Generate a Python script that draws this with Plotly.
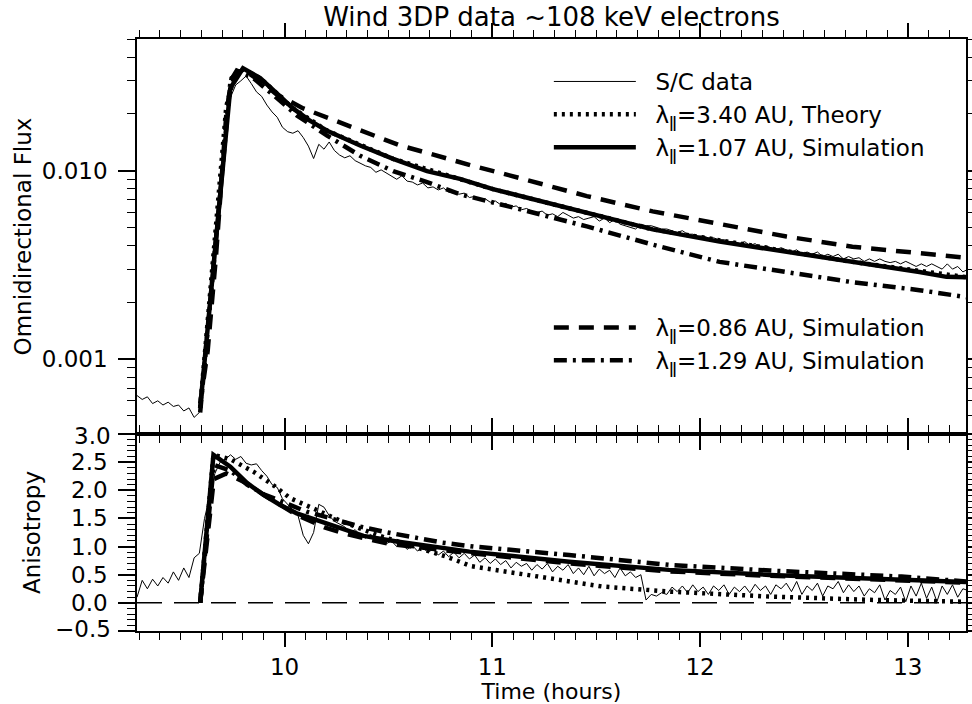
import numpy as np
import plotly.graph_objects as go
from plotly.subplots import make_subplots

# ---------------- data ----------------
# S/C data sampled every 0.025 h starting at 9.29 h
t_start = 9.29
t_step = 0.025
flux_data = [
    0.00064, 0.00061, 0.00063, 0.00058, 0.00060, 0.00057, 0.00059, 0.00056, 0.00057, 0.00053,
    0.00055, 0.00049, 0.00052, 0.0011, 0.0024, 0.0046, 0.0090, 0.0165, 0.0245, 0.0285,
    0.0300, 0.0318, 0.0290, 0.0262, 0.0248, 0.0223, 0.0205, 0.0192, 0.0170, 0.0161,
    0.0158, 0.0163, 0.0150, 0.0135, 0.0116, 0.0138, 0.0130, 0.0142, 0.0128, 0.0121,
    0.0117, 0.0120, 0.0113, 0.0109, 0.0106, 0.0104, 0.0098, 0.0101, 0.0097, 0.0093,
    0.0090, 0.0094, 0.0088, 0.0087, 0.0084, 0.0086, 0.0081, 0.0082, 0.0079, 0.0081,
    0.0077, 0.0076, 0.0075, 0.0076, 0.0072, 0.0073, 0.0070, 0.0071, 0.0068, 0.0069,
    0.0066, 0.0067, 0.0064, 0.0065, 0.0062, 0.0063, 0.0061, 0.0060, 0.0061, 0.0058,
    0.0059, 0.0057, 0.0060, 0.0058, 0.0056, 0.0057, 0.0055, 0.0056, 0.0057, 0.0054,
    0.0056, 0.0053, 0.0055, 0.0052, 0.0051, 0.0050, 0.0049, 0.0052, 0.0051, 0.0051,
    0.0050, 0.0049, 0.0049, 0.0048, 0.0047, 0.0048, 0.0046, 0.0046, 0.0045, 0.0045,
    0.0044, 0.0044, 0.0043, 0.0043, 0.0042, 0.0042, 0.0041, 0.0042, 0.0040, 0.0041,
    0.0039, 0.0040, 0.0039, 0.0038, 0.0039, 0.0038, 0.0037, 0.0038, 0.0036, 0.0037,
    0.0036, 0.0037, 0.0035, 0.0036, 0.0035, 0.0036, 0.0034, 0.0035, 0.0034, 0.00345,
    0.0033, 0.0034, 0.0033, 0.0034, 0.0033, 0.00325, 0.0033, 0.0032, 0.0033, 0.0032,
    0.0031, 0.0032, 0.0031, 0.0032, 0.0031, 0.0030, 0.0032, 0.0030, 0.0031, 0.0029,
    0.0030,
]
aniso_data = [
    0.10, 0.40, 0.25, 0.42, 0.30, 0.45, 0.35, 0.55, 0.40, 0.62,
    0.45, 0.80, 0.88, 1.50, 1.90, 2.30, 2.50, 2.55, 2.63, 2.55,
    2.60, 2.48, 2.45, 2.47, 2.35, 2.25, 2.10, 2.05, 1.85, 1.75,
    1.65, 1.55, 1.20, 1.05, 1.25, 1.75, 1.70, 1.55, 1.45, 1.40,
    1.35, 1.25, 1.30, 1.20, 1.15, 1.22, 1.10, 1.12, 1.05, 1.10,
    1.00, 1.05, 0.95, 1.02, 0.92, 0.98, 0.90, 0.95, 0.85, 0.92,
    0.82, 0.90, 0.80, 0.88, 0.78, 0.85, 0.72, 0.80, 0.70, 0.78,
    0.68, 0.75, 0.62, 0.72, 0.65, 0.70, 0.58, 0.68, 0.60, 0.70,
    0.55, 0.65, 0.58, 0.68, 0.52, 0.62, 0.50, 0.65, 0.48, 0.60,
    0.52, 0.58, 0.45, 0.62, 0.48, 0.55, 0.45, 0.50, 0.05, 0.15,
    0.12, 0.18, 0.15, 0.28, 0.20, 0.30, 0.18, 0.32, 0.20, 0.28,
    0.15, 0.30, 0.22, 0.32, 0.15, 0.28, 0.20, 0.30, 0.18, 0.33,
    0.22, 0.30, 0.15, 0.32, 0.25, 0.35, 0.20, 0.38, 0.15, 0.30,
    0.22, 0.35, 0.12, 0.30, 0.25, 0.38, 0.18, 0.32, 0.20, 0.30,
    0.12, 0.25, 0.18, 0.32, 0.05, 0.22, 0.15, 0.28, 0.02, 0.30,
    0.12, 0.35, 0.08, 0.28, 0.02, 0.30, 0.15, 0.32, 0.10, 0.25,
    0.22,
]
t_data = [round(t_start + t_step * i, 3) for i in range(len(flux_data))]

# Model curves: omnidirectional flux
t_sim107_f = [9.594, 9.739, 9.80, 9.883, 9.95, 10.041, 10.12, 10.205, 10.364, 10.523, 10.686,
              10.844, 11.003, 11.133, 11.455, 11.772, 12.094, 12.416, 12.733, 13.056, 13.186, 13.282]
f_sim107 = [0.00055, 0.0274, 0.0350, 0.0310, 0.0265, 0.0214, 0.0185, 0.0163, 0.0136, 0.01156, 0.00995,
            0.00904, 0.00798, 0.00733, 0.00601, 0.00488, 0.0042, 0.00372, 0.00328, 0.0029, 0.00273, 0.00272]

t_sim086_f = [9.594, 9.63, 9.67, 9.72, 9.745, 9.80, 9.88, 9.96, 10.09, 10.219, 10.33, 10.445, 10.556,
              10.667, 10.782, 10.907, 11.022, 11.147, 11.455, 11.772, 12.094, 12.416, 12.733, 13.056, 13.282]
f_sim086 = [0.00058, 0.0011, 0.0035, 0.020, 0.031, 0.0345, 0.030, 0.0255, 0.0214, 0.0189, 0.0169, 0.0151,
            0.0136, 0.0126, 0.01156, 0.0106, 0.00984, 0.00903, 0.00733, 0.00608, 0.00518, 0.00447,
            0.00395, 0.00366, 0.00345]

t_sim129_f = [9.594, 9.74, 9.77, 9.85, 9.95, 10.061, 10.205, 10.364, 10.523, 10.686, 10.844, 11.003,
              11.195, 11.455, 11.772, 12.094, 12.416, 12.733, 13.056, 13.282]
f_sim129 = [0.00052, 0.030, 0.034, 0.031, 0.025, 0.0196, 0.01535, 0.0120, 0.00995, 0.00869, 0.0075,
            0.0068, 0.0060, 0.00506, 0.00405, 0.00328, 0.0029, 0.00256, 0.00232, 0.00213]

t_theory_f = [9.594, 9.72, 9.76, 9.80, 9.883, 10.041, 10.205, 10.523, 11.003, 11.772, 12.733, 13.282]
f_theory = [0.00055, 0.022, 0.032, 0.0345, 0.0310, 0.0214, 0.0163, 0.01156, 0.00798, 0.00488, 0.00328, 0.00272]

# Model curves: anisotropy
t_sim107_a = [9.594, 9.658, 9.739, 9.819, 9.899, 9.979, 10.059, 10.219, 10.38, 10.54, 10.70, 10.89,
              11.37, 11.85, 12.335, 12.816, 13.28]
a_sim107 = [0.0, 2.63, 2.42, 2.13, 1.92, 1.74, 1.59, 1.385, 1.19, 1.09, 1.0, 0.91,
            0.73, 0.586, 0.497, 0.44, 0.37]

t_sim086_a = [9.594, 9.66, 9.72, 9.82, 9.90, 9.98, 10.06, 10.20, 10.30, 10.50, 10.70, 10.90, 11.37,
              11.85, 12.335, 12.816, 13.28]
a_sim086 = [0.0, 2.20, 2.30, 2.12, 1.92, 1.73, 1.56, 1.33, 1.22, 1.05, 0.96, 0.88, 0.70,
            0.56, 0.48, 0.42, 0.36]

t_sim129_a = [9.594, 9.66, 9.74, 9.82, 9.90, 10.0, 10.107, 10.364, 10.51, 10.76, 10.91, 11.37, 11.85,
              12.335, 12.66, 12.97, 13.28]
a_sim129 = [0.0, 2.45, 2.35, 2.10, 1.93, 1.78, 1.62, 1.355, 1.24, 1.07, 1.0, 0.85, 0.675,
            0.574, 0.527, 0.467, 0.38]

t_theory_a = [9.594, 9.658, 9.74, 9.85, 9.95, 10.027, 10.155, 10.28, 10.45, 10.62, 10.78, 10.90, 11.21,
              11.53, 11.85, 12.335, 12.82, 13.28]
a_theory = [0.0, 2.63, 2.55, 2.33, 2.08, 1.86, 1.65, 1.44, 1.20, 1.0, 0.82, 0.65, 0.467,
            0.29, 0.20, 0.112, 0.053, 0.02]

LAM = "λ<sub>ǁ</sub>"
GAP = "\u00a0\u00a0"
names = [GAP + "S/C data", GAP + LAM + "=3.40 AU, Theory", GAP + LAM + "=1.07 AU, Simulation",
         GAP + LAM + "=0.86 AU, Simulation", GAP + LAM + "=1.29 AU, Simulation"]

anis_ticks = [-0.5, 0.0, 0.5, 1.0, 1.5, 2.0, 2.5, 3.0]
anis_ticktext = ["", "0.0", "0.5", "1.0", "1.5", "2.0", "2.5", ""]

# ---------------- figure ----------------
FONT = "DejaVu Sans"
FS = 23
fig = make_subplots(rows=2, cols=1, shared_xaxes=True, vertical_spacing=0,
                    row_heights=[0.6672, 0.3328])

W = 4.5
styles = {
    "data": dict(color="black", width=1),
    "theory": dict(color="black", width=W, dash="3px,5px"),
    "s107": dict(color="black", width=W),
    "s086": dict(color="black", width=W, dash="15px,10px"),
    "s129": dict(color="black", width=W, dash="13px,6px,3px,6px"),
}

# top panel
fig.add_trace(go.Scatter(x=t_data, y=flux_data, mode="lines", line=styles["data"],
                         name=names[0], legend="legend"), row=1, col=1)
fig.add_trace(go.Scatter(x=t_theory_f, y=f_theory, mode="lines", line=styles["theory"],
                         name=names[1], legend="legend"), row=1, col=1)
fig.add_trace(go.Scatter(x=t_sim107_f, y=f_sim107, mode="lines", line=styles["s107"],
                         name=names[2], legend="legend"), row=1, col=1)
fig.add_trace(go.Scatter(x=t_sim086_f, y=f_sim086, mode="lines", line=styles["s086"],
                         name=names[3], legend="legend2"), row=1, col=1)
fig.add_trace(go.Scatter(x=t_sim129_f, y=f_sim129, mode="lines", line=styles["s129"],
                         name=names[4], legend="legend2"), row=1, col=1)

# bottom panel
fig.add_trace(go.Scatter(x=t_data, y=aniso_data, mode="lines", line=styles["data"],
                         showlegend=False), row=2, col=1)
fig.add_trace(go.Scatter(x=t_theory_a, y=a_theory, mode="lines", line=styles["theory"],
                         showlegend=False), row=2, col=1)
fig.add_trace(go.Scatter(x=t_sim107_a, y=a_sim107, mode="lines", line=styles["s107"],
                         showlegend=False), row=2, col=1)
fig.add_trace(go.Scatter(x=t_sim086_a, y=a_sim086, mode="lines", line=styles["s086"],
                         showlegend=False), row=2, col=1)
fig.add_trace(go.Scatter(x=t_sim129_a, y=a_sim129, mode="lines", line=styles["s129"],
                         showlegend=False), row=2, col=1)

# zero reference line in anisotropy panel
fig.add_shape(type="line", xref="x2 domain", yref="y2", x0=0, x1=1, y0=0, y1=0,
              line=dict(color="black", width=1.5, dash="25px,12px"))

tfont = dict(family=FONT, size=FS, color="black")
axis_common = dict(showline=True, linecolor="black", linewidth=1.5, mirror="allticks",
                   ticks="outside", tickcolor="black", tickwidth=1.5, showgrid=False,
                   zeroline=False, tickfont=tfont, automargin=False)

x_range = [9.29, 13.28]
fig.update_xaxes(range=x_range, tickvals=[10, 11, 12, 13], ticklen=14,
                 minor=dict(dtick=0.1, tick0=9.0, ticks="outside", ticklen=7,
                            tickcolor="black", tickwidth=1.2, showgrid=False),
                 **axis_common)
fig.update_xaxes(showticklabels=False, row=1, col=1)
fig.update_xaxes(ticklabelstandoff=1,
                 title=dict(text="Time (hours)", font=dict(family=FONT, size=22, color="black"),
                            standoff=6), row=2, col=1)

flux_minor = [0.0004, 0.0005, 0.0006, 0.0007, 0.0008, 0.0009,
              0.002, 0.003, 0.004, 0.005, 0.006, 0.007, 0.008, 0.009,
              0.02, 0.03, 0.04, 0.05]
fig.update_yaxes(type="log", range=[np.log10(0.0004), np.log10(0.05)],
                 tickmode="array", tickvals=[0.001, 0.01], ticktext=["0.001", "0.010"],
                 ticklen=17, ticklabelstandoff=6,
                 minor=dict(tickmode="array", tickvals=flux_minor, ticks="outside", ticklen=8,
                            tickcolor="black", tickwidth=1.2, showgrid=False),
                 title=dict(text="Omnidirectional Flux", font=tfont, standoff=4),
                 row=1, col=1, **axis_common)

fig.update_yaxes(range=[-0.5, 3.0], tickmode="array",
                 tickvals=anis_ticks, ticktext=anis_ticktext,
                 ticklen=17, ticklabelstandoff=6,
                 minor=dict(dtick=0.1, tick0=0, ticks="outside", ticklen=8,
                            tickcolor="black", tickwidth=1.2, showgrid=False),
                 title=dict(text="Anisotropy", font=tfont, standoff=24),
                 row=2, col=1, **axis_common)

# end labels of the anisotropy axis, nudged slightly inside the panel as in the original
for val, txt, shift in [(3.0, "3.0", -2), (-0.5, "−0.5", 2)]:
    fig.add_annotation(x=0, xref="x2 domain", y=val, yref="y2", text=txt, showarrow=False,
                       xanchor="right", yanchor="middle", xshift=-24, yshift=shift, font=tfont)

legend_common = dict(xanchor="left", yanchor="top", bgcolor="rgba(0,0,0,0)",
                     borderwidth=0, itemwidth=82, tracegroupgap=0,
                     font=tfont, itemclick=False)
fig.update_layout(
    width=972, height=704,
    margin=dict(l=137, r=6, t=39, b=73, autoexpand=False),
    paper_bgcolor="white", plot_bgcolor="white",
    title=dict(text="Wind 3DP data ~108 keV electrons", x=0.5, xref="paper", xanchor="center",
               y=0.976, yref="container", yanchor="middle",
               font=dict(family=FONT, size=26, color="black")),
    legend=dict(x=0.4968, y=0.9645, **legend_common),
    legend2=dict(x=0.4968, y=0.549, **legend_common),
    showlegend=True,
)

fig.write_html("out.html", config={"displayModeBar": False},
               post_script="document.body.style.margin='0';document.body.style.padding='0';")
